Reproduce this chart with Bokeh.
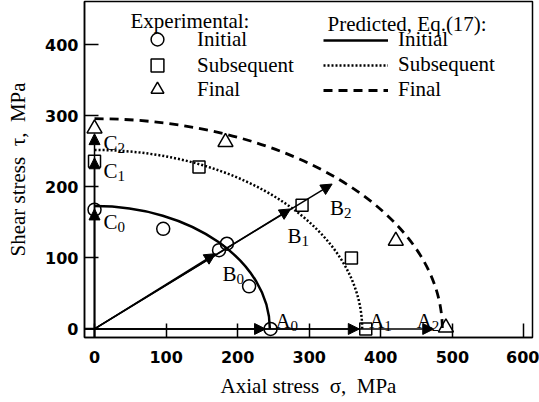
from bokeh.plotting import figure
from bokeh.models import (Range1d, ColumnDataSource, Arrow, NormalHead, Legend,
                          LegendItem, Label, FixedTicker)
from bokeh.embed import file_html
from bokeh.resources import INLINE

# Experimental yield points, MPa
initial_sigma = [0, 96, 174, 185, 216, 246]
initial_tau = [168, 141, 111, 120, 60, 0]
subsequent_sigma = [0, 146, 290, 359, 379]
subsequent_tau = [236, 228, 174, 100, 0]
final_sigma = [0, 183, 421, 491]
final_tau = [282, 263, 124, 2]

# Predicted yield surfaces, Eq.(17): intercepts on the sigma and tau axes, MPa
surface_names = ["Initial", "Subsequent", "Final"]
surface_sigma0 = [245, 374, 486]
surface_tau0 = [173, 252, 296]

# Loading paths: tension (A), proportional (B), torsion (C); end points, MPa
path_a_sigma = [239, 370, 474]
path_b_sigma = [169, 274, 332]
path_b_tau = [106, 169, 204]
path_c_tau = [169, 241, 275]

x_ticks = [0, 100, 200, 300, 400, 500, 600]
y_ticks = [0, 100, 200, 300, 400]

X_MIN, X_MAX = -14, 612
Y_MIN, Y_MAX = -12, 461

SERIF = "Liberation Serif"
TEXT_SIZE = "21px"

p = figure(width=539, height=402, x_range=Range1d(X_MIN, X_MAX),
           y_range=Range1d(Y_MIN, Y_MAX), output_backend="svg",
           toolbar_location=None, min_border_left=84, min_border_right=7,
           min_border_top=1, min_border_bottom=65)
p.background_fill_color = "white"
p.border_fill_color = "white"
p.outline_line_color = "black"
p.outline_line_width = 1.5
p.xgrid.visible = False
p.ygrid.visible = False

for ax, ticks in ((p.xaxis, x_ticks), (p.yaxis, y_ticks)):
    ax.ticker = FixedTicker(ticks=ticks, minor_ticks=[])
    ax.axis_line_color = "black"
    ax.axis_line_width = 1.5
    ax.major_tick_line_color = "black"
    ax.major_tick_line_width = 1.5
    ax.major_tick_in = 14
    ax.major_tick_out = 0
    ax.minor_tick_line_color = None
    ax.major_label_text_font = "DejaVu Sans"
    ax.major_label_text_font_style = "bold"
    ax.major_label_text_font_size = "16px"
    ax.major_label_text_color = "black"
    ax.axis_label_text_font = SERIF
    ax.axis_label_text_font_style = "normal"
    ax.axis_label_text_font_size = TEXT_SIZE
    ax.axis_label_text_color = "black"

p.xaxis.axis_label = "Axial stress\u00a0 \u03c3,\u00a0 MPa"
p.yaxis.axis_label = "Shear stress\u00a0 \u03c4,\u00a0 MPa"
p.xaxis.major_label_standoff = 13
p.yaxis.major_label_standoff = 6
p.xaxis.axis_label_standoff = 8
p.yaxis.axis_label_standoff = 12

# Predicted surfaces: quarter ellipses drawn as cubic Bezier curves
KAPPA = 0.5523
curve_styles = [dict(line_dash="solid", line_width=2.5),
                dict(line_dash="2 2", line_width=2.5),
                dict(line_dash="9 6", line_width=2.8)]
legend_lines = []
for name, a, b, style in zip(surface_names, surface_sigma0, surface_tau0, curve_styles):
    src = ColumnDataSource(dict(x0=[0], y0=[b], x1=[a], y1=[0],
                                cx0=[KAPPA * a], cy0=[b], cx1=[a], cy1=[KAPPA * b]))
    p.bezier(x0="x0", y0="y0", x1="x1", y1="y1", cx0="cx0", cy0="cy0",
             cx1="cx1", cy1="cy1", source=src, line_color="black", **style)
    # placeholder line (not drawn in the plot area) that carries the legend swatch
    legend_lines.append(p.line(x=[float("nan")], y=[float("nan")],
                               line_color="black", **style))

# Loading path arrows
head = dict(size=11, fill_color="black", line_color="black", line_width=1)
arrow_a = ColumnDataSource(dict(xs=[X_MIN] * 3, ys=[0] * 3, xe=path_a_sigma, ye=[0] * 3))
arrow_b = ColumnDataSource(dict(xs=[0] * 3, ys=[0] * 3, xe=path_b_sigma, ye=path_b_tau))
arrow_c = ColumnDataSource(dict(xs=[0] * 3, ys=[Y_MIN] * 3, xe=[0] * 3, ye=path_c_tau))
for src in (arrow_a, arrow_b, arrow_c):
    p.add_layout(Arrow(end=NormalHead(**head), x_start="xs", y_start="ys",
                       x_end="xe", y_end="ye", source=src,
                       line_color="black", line_width=1.5))

# Experimental points
r_init = p.scatter(initial_sigma, initial_tau, marker="circle", size=13,
                   fill_alpha=0, line_color="black", line_width=1.5)
r_sub = p.scatter(subsequent_sigma, subsequent_tau, marker="square", size=12,
                  fill_alpha=0, line_color="black", line_width=1.5)
r_fin = p.scatter(final_sigma, final_tau, marker="triangle", size=15,
                  fill_alpha=0, line_color="black", line_width=1.5)

# Path labels A_i, B_i, C_i with subscripts, anchored at the arrow tips
tip_x = path_a_sigma + path_b_sigma + [0, 0, 0]
tip_y = [0, 0, 0] + path_b_tau + path_c_tau
letters = ["A"] * 3 + ["B"] * 3 + ["C"] * 3
subs = ["0", "1", "2"] * 3
dx = [10, 10, -17, 7, -3, -2, 9, 9, 9]
dy = [-8, -8, -8, 20, 27, 24, 13, 13, 9]
letter_w = {"A": 15, "B": 14, "C": 14}
p.text(x=tip_x, y=tip_y, text=letters, x_offset=dx, y_offset=dy,
       text_font=SERIF, text_font_size=TEXT_SIZE, text_baseline="alphabetic",
       text_align="left", text_color="black")
p.text(x=tip_x, y=tip_y, text=subs,
       x_offset=[d + letter_w[l] for d, l in zip(dx, letters)],
       y_offset=[d + 5 for d in dy],
       text_font=SERIF, text_font_size="15px", text_baseline="alphabetic",
       text_align="left", text_color="black")

# Legends
common = dict(orientation="vertical", padding=0, margin=0,
              border_line_alpha=0, background_fill_alpha=0,
              label_text_font=SERIF, label_text_font_size=TEXT_SIZE,
              label_text_color="black", label_height=22)
# one single-row legend per experimental series, so the markers can be full size
for label, rend, ly in (("Initial", r_init, 282), ("Subsequent", r_sub, 256),
                        ("Final", r_fin, 232)):
    p.add_layout(Legend(items=[LegendItem(label=label, renderers=[rend])],
                        location=(57, ly), spacing=0, glyph_width=32,
                        glyph_height=32, label_standoff=24, **common))
pred_legend = Legend(items=[LegendItem(label=n, renderers=[r])
                            for n, r in zip(surface_names, legend_lines)],
                     location=(239, 235), spacing=0, glyph_width=65,
                     glyph_height=20, label_standoff=10, **common)
p.add_layout(pred_legend)

for txt, lx, ly in (("Experimental:", 46, 317), ("Predicted, Eq.(17):", 243, 314)):
    p.add_layout(Label(x=lx, y=ly, x_units="screen", y_units="screen", text=txt,
                       text_font=SERIF, text_font_size=TEXT_SIZE,
                       text_baseline="alphabetic", text_color="black"))

open("out.html", "w").write(file_html(p, INLINE))
